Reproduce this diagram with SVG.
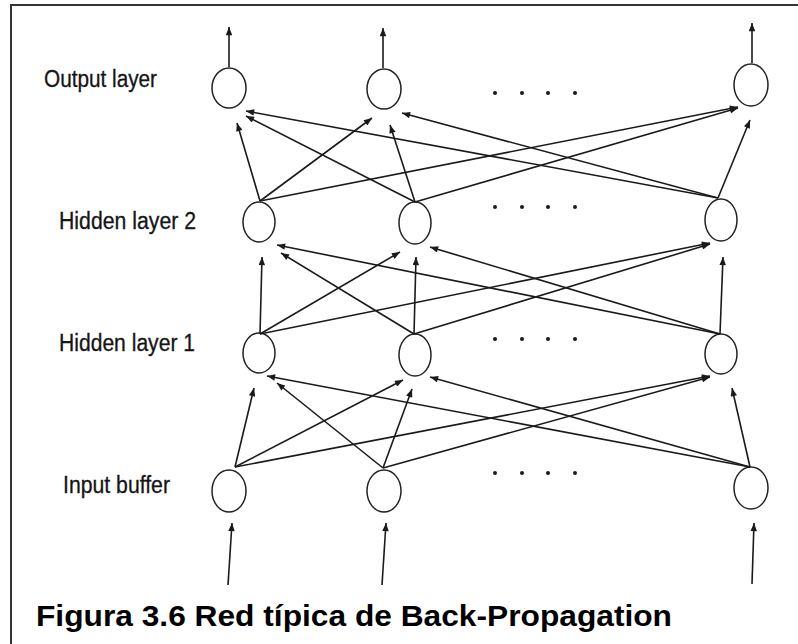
<svg xmlns="http://www.w3.org/2000/svg" width="798" height="644" viewBox="0 0 798 644">
<defs>
<marker id="ah" viewBox="0 0 10 8" refX="10" refY="4" markerWidth="9" markerHeight="6.5" markerUnits="userSpaceOnUse" orient="auto">
<path d="M0,0 L10,4 L0,8 z" fill="#1a1a1a"/>
</marker>
</defs>
<style>
.n{fill:none;stroke:#222;stroke-width:1.5}
.c line{stroke:#1a1a1a;stroke-width:1.6;marker-end:url(#ah)}
.lbl{font-family:"Liberation Sans",Arial,sans-serif;font-size:23px;fill:#151515;stroke:#151515;stroke-width:0.3}
.dot{fill:#1a1a1a}
.title{font-family:"Liberation Sans",Arial,sans-serif;font-size:30px;font-weight:bold;fill:#000}
</style>
<rect x="0" y="0" width="798" height="644" fill="#fff"/>
<path d="M11,650 L11,5 L800,5" fill="none" stroke="#333" stroke-width="2"/>

<text class="lbl" x="44" y="87" textLength="113" lengthAdjust="spacingAndGlyphs">Output layer</text>
<text class="lbl" x="59" y="229" textLength="137" lengthAdjust="spacingAndGlyphs">Hidden layer 2</text>
<text class="lbl" x="59" y="351" textLength="136" lengthAdjust="spacingAndGlyphs">Hidden layer 1</text>
<text class="lbl" x="63" y="493" textLength="107" lengthAdjust="spacingAndGlyphs">Input buffer</text>

<g id="O1"><ellipse class="n" cx="229" cy="88" rx="17" ry="20"/></g>
<g id="O2"><ellipse class="n" cx="384" cy="89" rx="17" ry="20"/></g>
<g id="O3"><ellipse class="n" cx="751" cy="85" rx="17" ry="21"/></g>
<g id="H2_1"><ellipse class="n" cx="259" cy="222" rx="16" ry="20"/></g>
<g id="H2_2"><ellipse class="n" cx="415" cy="223" rx="16" ry="21"/></g>
<g id="H2_3"><ellipse class="n" cx="721" cy="220" rx="16" ry="21"/></g>
<g id="H1_1"><ellipse class="n" cx="259" cy="353" rx="16" ry="20"/></g>
<g id="H1_2"><ellipse class="n" cx="415" cy="355" rx="16" ry="21"/></g>
<g id="H1_3"><ellipse class="n" cx="721" cy="354" rx="16" ry="20"/></g>
<g id="I1"><ellipse class="n" cx="229" cy="491" rx="17" ry="21"/></g>
<g id="I2"><ellipse class="n" cx="384" cy="491" rx="17" ry="21"/></g>
<g id="I3"><ellipse class="n" cx="751" cy="488" rx="17" ry="21"/></g>

<g id="dots">
<circle class="dot" cx="495" cy="93" r="2"/><circle class="dot" cx="522" cy="93" r="2"/><circle class="dot" cx="548" cy="93" r="2"/><circle class="dot" cx="575" cy="93" r="2"/>
<circle class="dot" cx="495" cy="207" r="2"/><circle class="dot" cx="522" cy="207" r="2"/><circle class="dot" cx="548" cy="207" r="2"/><circle class="dot" cx="575" cy="207" r="2"/>
<circle class="dot" cx="495" cy="339" r="2"/><circle class="dot" cx="522" cy="339" r="2"/><circle class="dot" cx="548" cy="339" r="2"/><circle class="dot" cx="575" cy="339" r="2"/>
<circle class="dot" cx="495" cy="473" r="2"/><circle class="dot" cx="522" cy="473" r="2"/><circle class="dot" cx="548" cy="473" r="2"/><circle class="dot" cx="575" cy="473" r="2"/>
</g>

<g id="connectors" class="c">
<line x1="229" y1="67" x2="229" y2="27"/>
<line x1="383" y1="68" x2="383" y2="28"/>
<line x1="752" y1="63" x2="752" y2="23"/>

<line x1="228" y1="585" x2="232" y2="523"/>
<line x1="382" y1="585" x2="386" y2="523"/>
<line x1="752" y1="584" x2="754" y2="523"/>

<line x1="235" y1="467" x2="254" y2="388"/>
<line x1="235" y1="467" x2="403" y2="380"/>
<line x1="235" y1="467" x2="710" y2="376"/>
<line x1="383" y1="468" x2="277" y2="383"/>
<line x1="383" y1="468" x2="412" y2="389"/>
<line x1="383" y1="468" x2="710" y2="377"/>
<line x1="750" y1="467" x2="267" y2="376"/>
<line x1="750" y1="467" x2="430" y2="377"/>
<line x1="750" y1="467" x2="732" y2="388"/>

<line x1="260" y1="334" x2="262" y2="257"/>
<line x1="260" y1="334" x2="400" y2="252"/>
<line x1="260" y1="334" x2="710" y2="243"/>
<line x1="414" y1="334" x2="281" y2="253"/>
<line x1="414" y1="334" x2="416" y2="257"/>
<line x1="414" y1="334" x2="710" y2="244"/>
<line x1="720" y1="334" x2="277" y2="245"/>
<line x1="720" y1="334" x2="430" y2="247"/>
<line x1="720" y1="334" x2="723" y2="257"/>

<line x1="260" y1="201" x2="237" y2="123"/>
<line x1="260" y1="201" x2="372" y2="118"/>
<line x1="260" y1="201" x2="738" y2="107"/>
<line x1="415" y1="202" x2="246" y2="116"/>
<line x1="415" y1="202" x2="390" y2="125"/>
<line x1="415" y1="202" x2="738" y2="108"/>
<line x1="718" y1="198" x2="246" y2="111"/>
<line x1="718" y1="198" x2="402" y2="113"/>
<line x1="718" y1="198" x2="750" y2="120"/>
</g>

<text class="title" x="36" y="626" textLength="636" lengthAdjust="spacingAndGlyphs">Figura 3.6 Red típica de Back-Propagation</text>
</svg>
